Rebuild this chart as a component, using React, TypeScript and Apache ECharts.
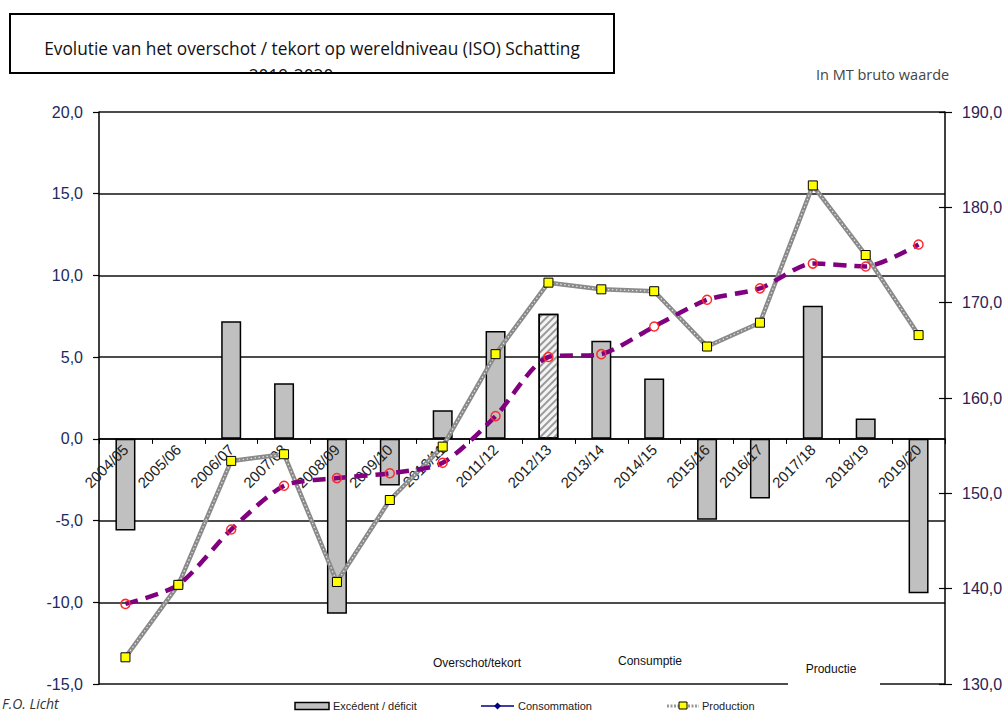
import React, { useEffect, useRef } from 'react';
import * as echarts from 'echarts';

const categories = ['2004/05', '2005/06', '2006/07', '2007/08', '2008/09', '2009/10', '2010/11', '2011/12', '2012/13', '2013/14', '2014/15', '2015/16', '2016/17', '2017/18', '2018/19', '2019/20'];
const surplus: (number | null)[] = [-5.6, null, 7.2, 3.4, -10.7, -2.85, 1.75, 6.6, 7.65, 6.0, 3.7, -4.95, -3.65, 8.15, 1.25, -9.45];
const consumption = [138.4, 140.4, 146.2, 150.8, 151.6, 152.1, 153.2, 158.1, 164.3, 164.6, 167.5, 170.3, 171.5, 174.1, 173.8, 176.1];
const production = [132.8, 140.4, 153.4, 154.1, 140.7, 149.3, 154.9, 164.6, 172.1, 171.4, 171.2, 165.4, 167.9, 182.3, 175.0, 166.6];
const estimateCategory = '2012/13';
const leftAxis = { min: -15, max: 20, step: 5 };
const rightAxis = { min: 130, max: 190, step: 10 };
const titleText = 'Evolutie van het overschot / tekort op wereldniveau (ISO) Schatting';
const titleLine2 = '2019-2020';
const unitText = 'In MT bruto waarde';
const legendNames = ['Excédent / déficit', 'Consommation', 'Production'];
const innerLabels = ['Overschot/tekort', 'Consumptie', 'Productie'];
const sourceText = 'F.O. Licht';

const fmt = (v: number) => v.toFixed(1).replace('.', ',');

const GRID_TOP = 112;
const GRID_BOTTOM = 29;
const HEIGHT = 713;

export default function App() {
  const ref = useRef<HTMLDivElement>(null);
  useEffect(() => {
    if (!ref.current) return;
    const chart = echarts.init(ref.current, undefined, { renderer: 'svg' });
    const plotH = HEIGHT - GRID_TOP - GRID_BOTTOM;
    const zeroFromBottom = (plotH * (0 - leftAxis.min)) / (leftAxis.max - leftAxis.min);
    const barData = surplus.map((v, i) =>
      categories[i] === estimateCategory
        ? {
            value: v,
            itemStyle: {
              color: '#f4f4f4',
              decal: {
                symbol: 'rect',
                symbolSize: 1,
                dashArrayX: [[1, 0]],
                dashArrayY: [1.5, 3],
                rotation: -Math.PI / 4,
                color: '#9a9a9a',
              },
            },
          }
        : v
    );
    const labelFont = 'Liberation Sans, Arial, sans-serif';
    const option: any = {
      animation: false,
      backgroundColor: '#ffffff',
      grid: { left: 99, right: 62, top: GRID_TOP, bottom: GRID_BOTTOM, containLabel: false, outerBoundsMode: 'none' },
      xAxis: {
        type: 'category',
        data: categories,
        boundaryGap: true,
        position: 'bottom',
        offset: -zeroFromBottom,
        z: 10,
        axisLine: { onZero: false, lineStyle: { color: '#000', width: 1.5 } },
        axisTick: { show: true, length: 5, lineStyle: { color: '#000', width: 1 } },
        axisLabel: { interval: 0, rotate: 45, fontSize: 15, color: '#222', margin: 8, fontFamily: labelFont },
        splitLine: { show: false },
      },
      yAxis: [
        {
          type: 'value',
          position: 'left',
          min: leftAxis.min,
          max: leftAxis.max,
          interval: leftAxis.step,
          axisLine: { show: true, lineStyle: { color: '#000', width: 1.5 } },
          axisTick: { show: true, length: 6, lineStyle: { color: '#000', width: 1.2 } },
          axisLabel: { formatter: fmt, fontSize: 16, color: '#1c2a5e', margin: 16, fontFamily: labelFont },
          splitLine: { show: true, lineStyle: { color: '#111', width: 1.5 } },
        },
        {
          type: 'value',
          position: 'right',
          min: rightAxis.min,
          max: rightAxis.max,
          interval: rightAxis.step,
          axisLine: { show: true, lineStyle: { color: '#000', width: 1.5 } },
          axisTick: { show: true, length: 7, lineStyle: { color: '#000', width: 1.2 } },
          axisLabel: { formatter: fmt, fontSize: 16, color: '#2a2255', margin: 17, fontFamily: labelFont },
          splitLine: { show: false },
        },
        {
          type: 'value',
          position: 'right',
          min: rightAxis.min,
          max: rightAxis.max,
          interval: rightAxis.step,
          axisLine: { show: false },
          axisTick: { show: true, inside: true, length: 6, lineStyle: { color: '#000', width: 1.2 } },
          axisLabel: { show: false },
          splitLine: { show: false },
        },
      ],
      series: [
        {
          name: legendNames[0],
          type: 'bar',
          yAxisIndex: 0,
          barWidth: 20,
          data: barData,
          itemStyle: { color: '#c0c0c0', borderColor: '#000', borderWidth: 1.5 },
          z: 2,
        },
        {
          name: legendNames[2],
          type: 'line',
          yAxisIndex: 1,
          data: production,
          symbol: 'none',
          lineStyle: { color: '#8a8a8a', width: 4.5 },
          z: 11,
        },
        {
          name: 'prod-dots',
          type: 'line',
          yAxisIndex: 1,
          data: production,
          symbol: 'none',
          lineStyle: { color: '#e6e6e6', width: 1.2, type: [1.5, 2.5] },
          z: 11,
        },
        {
          name: legendNames[1],
          type: 'line',
          yAxisIndex: 1,
          data: consumption,
          smooth: 0.25,
          symbol: 'circle',
          symbolSize: 9,
          lineStyle: { color: '#800080', width: 4.5, type: [13, 8] },
          itemStyle: { color: 'rgba(255,255,255,0)', borderColor: '#ff2a2a', borderWidth: 1.5 },
          z: 12,
        },
        {
          name: 'prod-marks',
          type: 'line',
          yAxisIndex: 1,
          data: production,
          symbol: 'rect',
          symbolSize: 9,
          showAllSymbol: true,
          lineStyle: { width: 0, opacity: 0 },
          itemStyle: { color: '#ffff00', borderColor: '#000', borderWidth: 1 },
          z: 13,
        },
      ],
      graphic: [
        {
          type: 'text', x: 312, y: 48, z: 100,
          style: { text: titleText, fontSize: 17.3, fontFamily: 'Open Sans, sans-serif', fill: '#111', align: 'center', verticalAlign: 'middle' },
        },
        {
          type: 'text', x: 291, y: 75, z: 100,
          style: { text: titleLine2, fontSize: 17.3, fontFamily: 'Open Sans, sans-serif', fill: '#111', align: 'center', verticalAlign: 'middle' },
        },
        { type: 'rect', z: 101, shape: { x: 230, y: 73, width: 130, height: 22 }, style: { fill: '#fff' } },
        { type: 'rect', z: 102, shape: { x: 10, y: 14, width: 604, height: 59 }, style: { fill: 'none', stroke: '#000', lineWidth: 2 } },
        {
          type: 'text', x: 816, y: 74, z: 100,
          style: { text: unitText, fontSize: 14.5, fontFamily: 'Open Sans, sans-serif', fill: '#444', verticalAlign: 'middle' },
        },
        {
          type: 'text', x: 477, y: 663, z: 100,
          style: { text: innerLabels[0], fontSize: 12, fontFamily: labelFont, fill: '#111', align: 'center', verticalAlign: 'middle' },
        },
        {
          type: 'text', x: 650, y: 661, z: 100,
          style: { text: innerLabels[1], fontSize: 12, fontFamily: labelFont, fill: '#111', align: 'center', verticalAlign: 'middle' },
        },
        { type: 'rect', z: 100, shape: { x: 788, y: 652, width: 92, height: 38 }, style: { fill: '#fff' } },
        {
          type: 'text', x: 831, y: 669, z: 101,
          style: { text: innerLabels[2], fontSize: 12, fontFamily: labelFont, fill: '#111', align: 'center', verticalAlign: 'middle' },
        },
        // legend
        { type: 'rect', z: 100, shape: { x: 295, y: 702.5, width: 34, height: 7 }, style: { fill: '#c0c0c0', stroke: '#000', lineWidth: 1.5 } },
        {
          type: 'text', x: 333, y: 706, z: 100,
          style: { text: legendNames[0], fontSize: 11, fontFamily: labelFont, fill: '#222', verticalAlign: 'middle' },
        },
        { type: 'line', z: 100, shape: { x1: 481, y1: 706, x2: 514, y2: 706 }, style: { stroke: '#000080', lineWidth: 1.5 } },
        { type: 'polygon', z: 101, shape: { points: [[497.5, 702.5], [501, 706], [497.5, 709.5], [494, 706]] }, style: { fill: '#000080' } },
        {
          type: 'text', x: 518, y: 706, z: 100,
          style: { text: legendNames[1], fontSize: 11, fontFamily: labelFont, fill: '#222', verticalAlign: 'middle' },
        },
        { type: 'line', z: 100, shape: { x1: 667, y1: 706, x2: 699, y2: 706 }, style: { stroke: '#999', lineWidth: 3, lineDash: [2, 1.5] } },
        { type: 'rect', z: 101, shape: { x: 679, y: 702, width: 8, height: 7 }, style: { fill: '#ffff00', stroke: '#000', lineWidth: 1 } },
        {
          type: 'text', x: 702, y: 706, z: 100,
          style: { text: legendNames[2], fontSize: 11, fontFamily: labelFont, fill: '#222', verticalAlign: 'middle' },
        },
        {
          type: 'text', x: 2, y: 703, z: 100,
          style: { text: sourceText, fontSize: 14, fontStyle: 'italic', fontFamily: 'Open Sans, sans-serif', fill: '#333', verticalAlign: 'middle' },
        },
      ],
    };
    chart.setOption(option);
    return () => chart.dispose();
  }, []);
  return <div ref={ref} style={{ position: 'absolute', left: 0, top: 0, width: 1007, height: 713 }} />;
}
